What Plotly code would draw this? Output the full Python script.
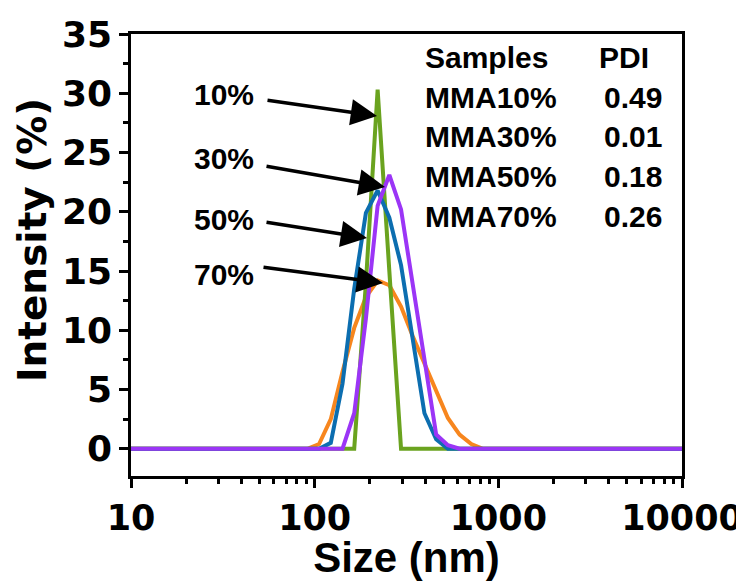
import plotly.graph_objects as go

# DLS size bins (nm) and intensity (%)
size_10 = [10, 164.2, 190.1, 220.2, 255.0, 295.3, 10000]
int_10 = [0, 0, 14.0, 30.3, 15.0, 0, 0]

size_30 = [10, 141.8, 164.2, 190.1, 220.2, 255.0, 295.3, 342.0, 396.1, 458.7, 531.2, 615.1, 10000]
int_30 = [0, 0, 3.0, 11.0, 20.5, 23.1, 20.2, 14.0, 7.5, 1.2, 0.3, 0, 0]

size_50 = [10, 105.7, 122.4, 141.8, 164.2, 190.1, 220.2, 255.0, 295.3, 342.0, 396.1, 458.7, 531.2, 10000]
int_50 = [0, 0, 0.5, 5.5, 13.5, 19.9, 21.8, 19.5, 15.5, 9.0, 3.0, 0.8, 0, 0]

size_70 = [10, 91.28, 105.7, 122.4, 141.8, 164.2, 190.1, 220.2, 255.0, 295.3, 342.0,
           396.1, 458.7, 531.2, 615.1, 712.4, 825.0, 10000]
int_70 = [0, 0, 0.4, 2.5, 6.5, 10.2, 12.8, 14.2, 13.8, 12.0, 9.5,
          7.2, 4.8, 2.6, 1.2, 0.4, 0, 0]

samples = ["MMA10%", "MMA30%", "MMA50%", "MMA70%"]
pdi = ["0.49", "0.01", "0.18", "0.26"]
labels = ["10%", "30%", "50%", "70%"]

x_ticks = [10, 100, 1000, 10000]
y_ticks = [0, 5, 10, 15, 20, 25, 30, 35]

FONT = "Liberation Sans"
WIDE = "DejaVu Sans"

# the page adds an 8px body margin, so the figure is drawn 8px in
PAGE = 8
W, H = 744 - PAGE, 581 - PAGE
# plot area in screen pixels (for placing text)
X0, X1, Y0, Y1 = 131, 682, 34, 476


def px(x, y):
    return (x - X0) / (X1 - X0), (Y1 - y) / (Y1 - Y0)


fig = go.Figure()

series = [
    (size_70, int_70, "#F7861E"),
    (size_10, int_10, "#6AA31F"),
    (size_50, int_50, "#0C6EB0"),
    (size_30, int_30, "#9B35F6"),
]
for xs, ys, col in series:
    fig.add_trace(go.Scatter(x=xs, y=ys, mode="lines",
                             line=dict(color=col, width=4),
                             showlegend=False))

annotations = []

# arrows + labels: (label centre, arrow tail, arrow head) in pixels
arrow_px = [
    ((224, 95), (266, 100), (377, 116)),
    ((224, 158), (265, 166), (385, 187)),
    ((224, 220), (265, 222), (367, 238)),
    ((224, 274), (262, 267), (383, 283)),
]
for lab, (lc, tail, head) in zip(labels, arrow_px):
    lx, ly = px(*lc)
    annotations.append(dict(x=lx, y=ly, xref="paper", yref="paper", text=lab,
                            showarrow=False, xanchor="center", yanchor="middle",
                            font=dict(family=FONT, size=30, color="black", weight="bold")))
    hx, hy = px(*head)
    annotations.append(dict(x=hx, y=hy, xref="paper", yref="paper", text="",
                            showarrow=True, arrowhead=2, arrowsize=1.5, arrowwidth=3.5,
                            arrowcolor="black", standoff=0,
                            ax=tail[0] - head[0], ay=tail[1] - head[1]))

# PDI table
hx, hy = px(423, 57)
annotations.append(dict(x=hx, y=hy, xref="paper", yref="paper", text="Samples",
                        showarrow=False, xanchor="left", yanchor="middle",
                        font=dict(family=FONT, size=30, color="black", weight="bold")))
hx, hy = px(597, 57)
annotations.append(dict(x=hx, y=hy, xref="paper", yref="paper", text="PDI",
                        showarrow=False, xanchor="left", yanchor="middle",
                        font=dict(family=FONT, size=30, color="black", weight="bold")))
row_y = [97, 137, 177, 216]
for s, p, ry in zip(samples, pdi, row_y):
    sx, sy = px(423, ry)
    annotations.append(dict(x=sx, y=sy, xref="paper", yref="paper", text=s,
                            showarrow=False, xanchor="left", yanchor="middle",
                            font=dict(family=FONT, size=30, color="black", weight="bold")))
    vx, vy = px(664, ry)
    annotations.append(dict(x=vx, y=vy, xref="paper", yref="paper", text=p,
                            showarrow=False, xanchor="right", yanchor="middle",
                            font=dict(family=FONT, size=30, color="black", weight="bold")))

# y title sits a little above the plot centre in the original
tx, ty = px(32, 240)
annotations.append(dict(x=tx, y=ty, xref="paper", yref="paper", text="Intensity (%)",
                        textangle=-90, showarrow=False, xanchor="center", yanchor="middle",
                        font=dict(family=WIDE, size=39, color="black", weight="bold")))

minor_x = [m * d for d in (10, 100, 1000) for m in range(2, 10)]

fig.update_layout(
    width=W, height=H,
    margin=dict(l=X0 - PAGE, r=744 - X1, t=Y0 - PAGE, b=581 - Y1, autoexpand=False),
    plot_bgcolor="white", paper_bgcolor="white",
    annotations=annotations,
    xaxis=dict(
        type="log", range=[1, 4],
        tickvals=x_ticks, ticktext=[str(v) for v in x_ticks],
        ticks="outside", ticklen=9, tickwidth=2.5, tickcolor="black",
        showline=True, linewidth=2.5, linecolor="black", mirror=True,
        showgrid=False, zeroline=False,
        tickfont=dict(family=WIDE, size=35, color="black", weight="bold"),
        minor=dict(tickvals=minor_x, ticks="outside", ticklen=5, tickwidth=2.5,
                   tickcolor="black", showgrid=False),
        title=dict(text="Size (nm)", standoff=2,
                   font=dict(family=FONT, size=42, color="black", weight="bold")),
    ),
    yaxis=dict(
        range=[-2.3, 35],
        tickvals=y_ticks,
        ticks="outside", ticklen=9, tickwidth=2.5, tickcolor="black",
        showline=True, linewidth=2.5, linecolor="black", mirror=True,
        showgrid=False, zeroline=False,
        tickfont=dict(family=WIDE, size=36, color="black", weight="bold"),
        minor=dict(dtick=2.5, tick0=0, ticks="outside", ticklen=5, tickwidth=2.5,
                   tickcolor="black", showgrid=False),
    ),
)

fig.write_html("out.html")
